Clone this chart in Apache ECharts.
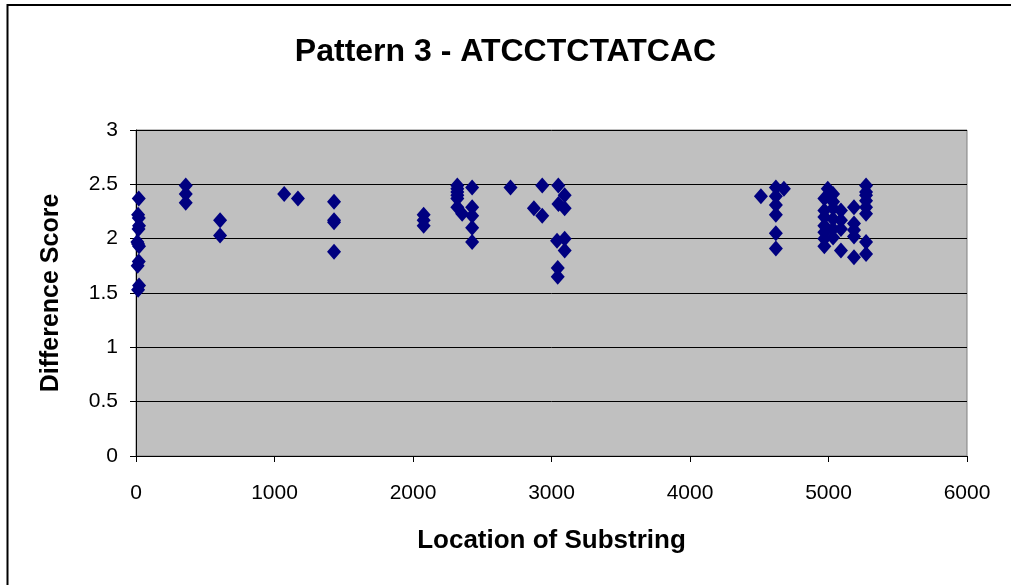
<!DOCTYPE html>
<html>
<head>
<meta charset="utf-8">
<script src="https://cdn.jsdelivr.net/npm/echarts@6/dist/echarts.min.js"></script>
<style>
	html, body { margin: 0; padding: 0; background: #fff; }
	#chart { width: 1011px; height: 585px; }
</style>
</head>
<body>
<div id="chart"></div>
<script>
	// locations of substring (x) and their difference scores (y)
	const locations = [
		20, 15, 20, 22, 18, 10, 15, 22, 20, 12, 22, 15,
		359, 359, 359,
		607, 607,
		1070, 1169,
		1430, 1430, 1430, 1430,
		2077, 2077, 2077,
		2320, 2320, 2320, 2320, 2320, 2320, 2355,
		2427, 2427, 2427, 2427, 2427,
		2704, 2873, 2933, 2933,
		3049, 3050, 3095, 3095, 3040, 3095, 3095, 3045, 3045,
		4512,
		4620, 4620, 4620, 4620, 4620, 4620, 4678,
		4995, 4970, 4970, 4970, 4970, 4970, 4970, 4970,
		5033, 5033, 5033, 5033, 5033, 5033,
		5090, 5090, 5090, 5090,
		5184, 5184, 5184, 5184, 5184,
		5271, 5271, 5271, 5271, 5271, 5271, 5271, 5271
	]
	const scores = [
		2.37, 2.22, 2.19, 2.12, 2.09, 1.97, 1.95, 1.93, 1.79, 1.75, 1.57, 1.53,
		2.49, 2.41, 2.33,
		2.17, 2.03,
		2.41, 2.37,
		2.34, 2.17, 2.15, 1.88,
		2.22, 2.17, 2.12,
		2.49, 2.46, 2.43, 2.40, 2.37, 2.29, 2.23,
		2.47, 2.29, 2.21, 2.10, 1.97,
		2.47, 2.28, 2.49, 2.21,
		2.49, 2.32, 2.40, 2.28, 1.98, 2.00, 1.89, 1.73, 1.65,
		2.39,
		2.47, 2.39, 2.31, 2.22, 2.05, 1.91, 2.46,
		2.46, 2.37, 2.26, 2.20, 2.12, 2.06, 2.00, 1.93,
		2.41, 2.34, 2.28, 2.18, 2.09, 2.01,
		2.26, 2.17, 2.09, 1.89,
		2.29, 2.14, 2.08, 2.02, 1.83,
		2.49, 2.43, 2.40, 2.35, 2.29, 2.23, 1.97, 1.86
	]
	const xTicks = [0, 1000, 2000, 3000, 4000, 5000, 6000]
	const yTicks = [0, 0.5, 1, 1.5, 2, 2.5, 3]

	const points = locations.map((x, i) => [x, scores[i]])

	const font = '"Liberation Sans", Arial, sans-serif'

	let myChart = echarts.init(document.getElementById('chart'), null, { renderer: 'canvas' })

	const option = {
		backgroundColor: '#ffffff',
		animation: false,
		title: {
			text: 'Pattern 3 - ATCCTCTATCAC',
			left: 'center',
			top: 31,
			textStyle: {
				fontFamily: font,
				fontSize: 32,
				fontWeight: 'bold',
				color: '#000'
			}
		},
		grid: {
			left: 136,
			right: 44,
			top: 130,
			bottom: 129,
			show: true,
			backgroundColor: '#c0c0c0',
			borderColor: '#808080',
			borderWidth: 1
		},
		xAxis: {
			type: 'value',
			min: xTicks[0],
			max: xTicks[xTicks.length - 1],
			interval: 1000,
			name: 'Location of Substring',
			nameLocation: 'middle',
			nameGap: 72,
			nameTextStyle: { fontFamily: font, fontSize: 26, fontWeight: 'bold', color: '#000' },
			axisLine: { show: true, onZero: false, lineStyle: { color: '#000', width: 1 } },
			axisTick: { show: true, inside: false, length: 6, lineStyle: { color: '#000' } },
			axisLabel: { fontFamily: font, fontSize: 21, color: '#000', margin: 27, formatter: v => String(v) },
			splitLine: { show: false }
		},
		yAxis: {
			type: 'value',
			min: yTicks[0],
			max: yTicks[yTicks.length - 1],
			interval: 0.5,
			name: 'Difference Score',
			nameLocation: 'middle',
			nameGap: 72,
			nameRotate: 90,
			nameTextStyle: { fontFamily: font, fontSize: 25, fontWeight: 'bold', color: '#000' },
			axisLine: { show: true, lineStyle: { color: '#000', width: 1 } },
			axisTick: { show: true, inside: false, length: 6, lineStyle: { color: '#000' } },
			axisLabel: { fontFamily: font, fontSize: 21, color: '#000', margin: 18 },
			splitLine: { show: true, lineStyle: { color: '#000', width: 1 } }
		},
		graphic: [{
			type: 'rect',
			shape: { x: 7.5, y: 5, width: 1100, height: 700 },
			style: { fill: 'none', stroke: '#000', lineWidth: 2 },
			silent: true
		}],
		series: [{
			type: 'scatter',
			data: points,
			symbol: 'diamond',
			symbolSize: [14, 16],
			itemStyle: { color: '#000080', opacity: 1 }
		}]
	}

	myChart.setOption(option)
</script>
</body>
</html>
